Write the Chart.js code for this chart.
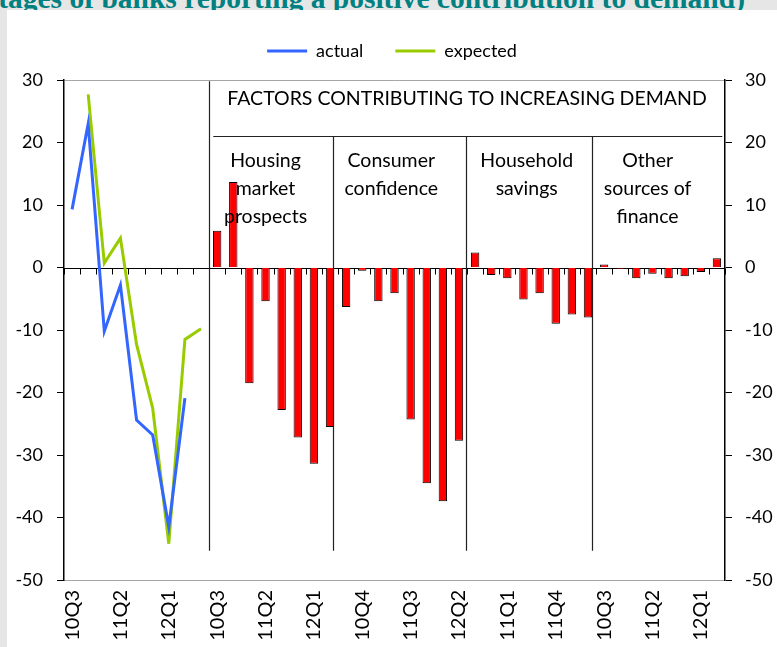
<!DOCTYPE html>
<html>
<head>
<meta charset="utf-8">
<script src="https://cdn.jsdelivr.net/npm/chart.js@4.4.1/dist/chart.umd.min.js"></script>
<style>
    html, body { margin: 0; padding: 0; width: 777px; height: 647px; overflow: hidden; background: #e6e6e6; }
    #titulo { position: absolute; right: 32px; top: -18px; line-height: 29.5px; font: bold 29.5px "Liberation Serif", serif; color: #008080; white-space: nowrap; }
    #panel { position: absolute; left: 7px; top: 10px; width: 770px; height: 637px; background: #fff; }
</style>
</head>
<body>
<div id="titulo">(percentages of banks reporting a positive contribution to demand)</div>
<div id="panel"><canvas id="myChart"></canvas></div>
<script>
// trimestres
const trimestresLinea = ['10Q3', '10Q4', '11Q1', '11Q2', '11Q3', '11Q4', '12Q1', '12Q2', '12Q3'];
const trimestres = ['10Q3', '10Q4', '11Q1', '11Q2', '11Q3', '11Q4', '12Q1', '12Q2'];

// demanda: actual (10Q3-12Q2) y esperada (10Q4-12Q3)
const actual = [9.3, 23.0, -10.2, -2.8, -24.4, -26.8, -41.5, -20.9];
const esperado = [27.7, 0.7, 4.7, -12.3, -22.5, -44.2, -11.5, -9.8];

// factores (10Q3-12Q2)
const vivienda = [5.9, 13.7, -18.5, -5.4, -22.8, -27.2, -31.4, -25.5];
const confianza = [-6.3, -0.5, -5.4, -4.1, -24.3, -34.5, -37.4, -27.7];
const ahorro = [2.4, -1.2, -1.7, -5.1, -4.1, -9.0, -7.5, -8.0];
const otras = [0.5, -0.2, -1.7, -1.0, -1.7, -1.4, -0.7, 1.5];

const grupos = [['Housing', 'market', 'prospects'], ['Consumer', 'confidence'], ['Household', 'savings'], ['Other', 'sources of', 'finance']];
const tituloFactores = 'FACTORS CONTRIBUTING TO INCREASING DEMAND';

const categorias = trimestresLinea.concat(trimestres, trimestres, trimestres, trimestres);
const vacios = n => new Array(n).fill(null);

const serieActual = actual.concat(vacios(categorias.length - actual.length));
const serieEsperado = [null].concat(esperado, vacios(categorias.length - esperado.length - 1));
const serieBarras = vacios(trimestresLinea.length).concat(vivienda, confianza, ahorro, otras);

const fuente = 'Lato, "Open Sans", sans-serif';

// posiciones de los textos y separadores (en unidades de categoria)
const centrosGrupos = [12.0, 19.8, 28.2, 35.7];
const separadores = [16.2, 24.45, 32.25];

const anotaciones = {
    id: 'anotaciones',
    beforeDatasetsDraw(chart) {
        const { ctx, chartArea: area, scales: { x, y } } = chart;
        const y0 = Math.round(y.getPixelForValue(0)) + 0.5;
        ctx.save();
        ctx.strokeStyle = '#000';
        ctx.lineWidth = 1;
        ctx.beginPath();
        ctx.moveTo(area.left, y0);
        ctx.lineTo(area.right, y0);
        for (let k = 0; k <= categorias.length; k++) {
            const px = Math.round(x.getPixelForValue(k - 0.5)) + 0.5;
            ctx.moveTo(px, y0);
            ctx.lineTo(px, y0 + 6);
        }
        ctx.stroke();
        ctx.restore();
    },
    afterDatasetsDraw(chart) {
        const { ctx, scales: { x, y } } = chart;
        ctx.save();
        ctx.strokeStyle = '#222';
        ctx.lineWidth = 1.2;
        ctx.beginPath();
        const xs = Math.round(x.getPixelForValue(8.5)) + 0.5;
        ctx.moveTo(xs, y.getPixelForValue(29.8));
        ctx.lineTo(xs, y.getPixelForValue(-45.3));
        const yh = Math.round(y.getPixelForValue(21.1)) + 0.5;
        ctx.moveTo(x.getPixelForValue(8.76), yh);
        ctx.lineTo(x.getPixelForValue(40.33), yh);
        separadores.forEach(s => {
            const px = Math.round(x.getPixelForValue(s)) + 0.5;
            ctx.moveTo(px, yh);
            ctx.lineTo(px, y.getPixelForValue(-45.3));
        });
        ctx.stroke();

        ctx.fillStyle = '#000';
        ctx.textAlign = 'center';
        ctx.textBaseline = 'middle';
        ctx.font = '19.5px ' + fuente;
        ctx.fillText(tituloFactores, x.getPixelForValue(24.5), y.getPixelForValue(27));
        grupos.forEach((lineas, i) => {
            lineas.forEach((t, j) => {
                ctx.fillText(t, x.getPixelForValue(centrosGrupos[i]), y.getPixelForValue(17.1 - j * 4.5));
            });
        });
        ctx.restore();
    }
};

const margenLeyenda = {
    id: 'margenLeyenda',
    beforeInit(chart) {
        const fit = chart.legend.fit;
        chart.legend.fit = function () {
            fit.bind(chart.legend)();
            this.height = 70;
        };
    }
};

const ctx = document.getElementById('myChart').getContext('2d');
const grafica = new Chart(ctx, {
    data: {
        labels: categorias,
        datasets: [
            { type: 'line', label: 'actual', data: serieActual, borderColor: '#3366ff', backgroundColor: '#3366ff', borderWidth: 3, pointRadius: 0, tension: 0 },
            { type: 'line', label: 'expected', data: serieEsperado, borderColor: '#99cc00', backgroundColor: '#99cc00', borderWidth: 3, pointRadius: 0, tension: 0 },
            { type: 'bar', label: 'factors', data: serieBarras, backgroundColor: '#ff0000', borderColor: '#000', borderWidth: 1, barPercentage: 0.52, categoryPercentage: 1 }
        ]
    },
    options: {
        responsive: true,
        maintainAspectRatio: false,
        animation: false,
        layout: { padding: { top: 0, left: 0, right: 0, bottom: 0 } },
        plugins: {
            legend: {
                position: 'top',
                labels: {
                    color: '#000',
                    font: { family: fuente, size: 18 },
                    boxWidth: 40,
                    boxHeight: 3,
                    padding: 32,
                    generateLabels: chart => chart.data.datasets.slice(0, 2).map((d, i) => ({
                        text: d.label, fillStyle: d.borderColor, strokeStyle: d.borderColor, lineWidth: 0, hidden: false, datasetIndex: i
                    }))
                }
            },
            tooltip: { enabled: false }
        },
        scales: {
            x: {
                grid: { display: false, drawTicks: false },
                border: { color: '#a6a6a6', width: 1 },
                ticks: {
                    autoSkip: false, maxRotation: 90, minRotation: 90, padding: 10,
                    color: '#000', font: { family: fuente, size: 20 },
                    callback: (v, i) => i % 3 === 0 ? categorias[i] : ''
                },
                afterFit: s => { s.height = 67; }
            },
            y: {
                position: 'left', min: -50, max: 30,
                ticks: { stepSize: 10, color: '#000', font: { family: fuente, size: 18 }, padding: 14 },
                grid: { color: c => c.tick && c.tick.value === 30 ? '#a6a6a6' : 'transparent', tickColor: '#000', tickLength: 7 },
                border: { color: '#000', width: 1.5 },
                afterFit: s => { s.width = 57; }
            },
            y2: {
                position: 'right', min: -50, max: 30,
                ticks: { stepSize: 10, color: '#000', font: { family: fuente, size: 18 }, padding: 13 },
                grid: { drawOnChartArea: false, tickColor: '#000', tickLength: 7 },
                border: { color: '#000', width: 1.5 },
                afterFit: s => { s.width = 52; }
            }
        }
    },
    plugins: [anotaciones, margenLeyenda]
});
</script>
</body>
</html>
